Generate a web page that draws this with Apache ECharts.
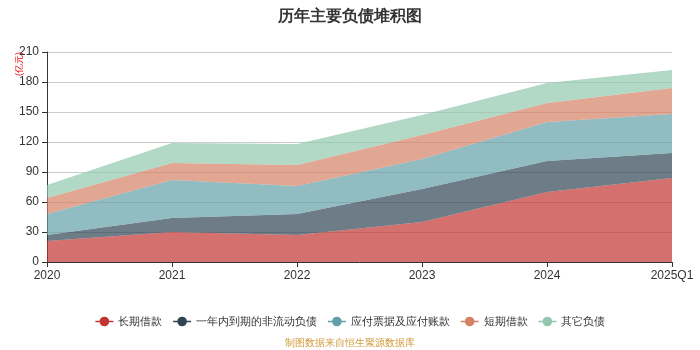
<!DOCTYPE html>
<html><head><meta charset="utf-8">
<script src="https://cdn.jsdelivr.net/npm/echarts@6/dist/echarts.min.js"></script>
<style>html,body{margin:0;padding:0;background:#fff}#c{width:700px;height:350px}</style>
</head><body><div id="c"></div>
<script>
const categories = ['2020','2021','2022','2023','2024','2025Q1'];
const longLoan = [21, 30, 27, 40, 70, 84];
const currentNonCurrent = [6, 14, 21, 33, 31, 25];
const payables = [21, 38, 28, 30, 39, 39];
const shortLoan = [16, 17, 21, 24, 19, 26];
const otherLiab = [13, 20, 21, 20, 20, 18];
const seriesNames = ['长期借款','一年内到期的非流动负债','应付票据及应付账款','短期借款','其它负债'];
const colors = ['#c23531','#2f4554','#61a0a8','#d48265','#91c7ae'];
const yTicks = {min:0, max:210, interval:30};

const dataList = [longLoan, currentNonCurrent, payables, shortLoan, otherLiab];
const chart = echarts.init(document.getElementById('c'));
chart.setOption({
  color: colors,
  animation: false,
  title: {text:'历年主要负债堆积图', left:'center', top:4, textStyle:{fontSize:16, fontWeight:'bold', color:'#333'}},
  grid: {left:47, right:28, top:52, bottom:88},
  legend: {top:311, itemGap:10, itemWidth:18, itemHeight:12, textStyle:{fontSize:11, color:'#333'},
    lineStyle:{width:1.5}, data: seriesNames},
  xAxis: {type:'category', boundaryGap:false, data:categories,
    axisLine:{lineStyle:{color:'#333'}}, axisTick:{show:true, lineStyle:{color:'#333'}},
    axisLabel:{color:'#333', fontSize:12}},
  yAxis: {type:'value', min:yTicks.min, max:yTicks.max, interval:yTicks.interval,
    axisLine:{show:true, lineStyle:{color:'#333'}}, axisTick:{show:true},
    axisLabel:{color:'#333', fontSize:12}, splitLine:{lineStyle:{color:'#ccc'}}},
  graphic: [
    {type:'text', left:15, top:52, rotation:Math.PI/2, style:{text:'(亿元)', fill:'#e00', fontSize:9}},
    {type:'text', left:'center', bottom:2, style:{text:'制图数据来自恒生聚源数据库', fill:'#d09a3a', fontSize:10}}
  ],
  series: seriesNames.map((n,i)=>({
    name:n, type:'line', stack:'total', data:dataList[i],
    symbol:'circle', symbolSize:8, showSymbol:false,
    lineStyle:{width:0}, areaStyle:{opacity:0.7}
  }))
});
</script></body></html>
